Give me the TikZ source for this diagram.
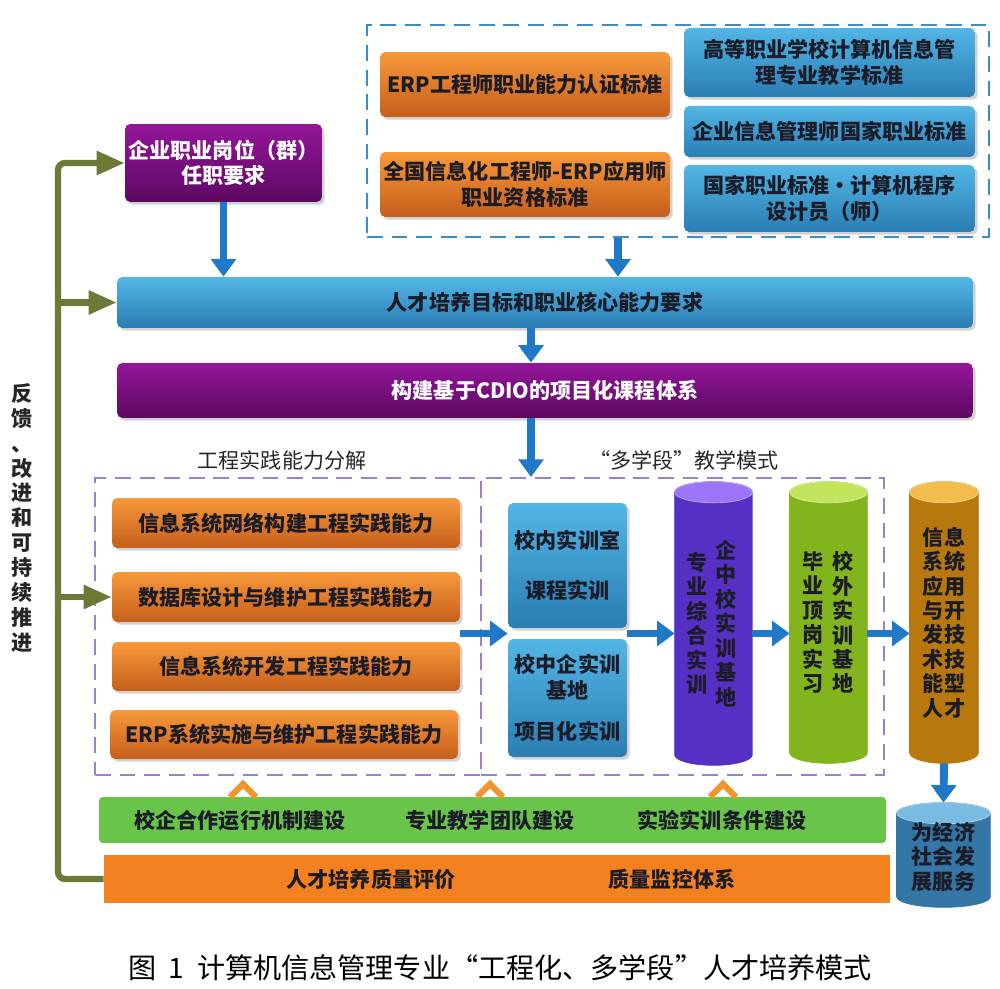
\documentclass[tikz,border=0pt]{standalone}
\usepackage{fontspec}
\setmainfont{Noto Sans CJK SC}
\usetikzlibrary{arrows.meta,calc,shadows}

\definecolor{orTop}{HTML}{F7993A}
\definecolor{orBot}{HTML}{C65E1B}
\definecolor{blTop}{HTML}{52B6E6}
\definecolor{blBot}{HTML}{2A7DB3}
\definecolor{puTop}{HTML}{94169A}
\definecolor{puBot}{HTML}{5C0862}
\definecolor{flowblue}{HTML}{1F78C8}
\definecolor{fbolive}{HTML}{6B7B37}
\definecolor{dashblue}{HTML}{3A8CCB}
\definecolor{dashpurple}{HTML}{9A80CF}
\definecolor{barGreen}{HTML}{68C54A}
\definecolor{barOrange}{HTML}{F3811F}
\definecolor{chevOrange}{HTML}{F0952F}
\definecolor{txtdark}{HTML}{1C1C28}
\definecolor{cylViolet}{HTML}{8A5CF8}
\definecolor{cylVioletD}{HTML}{5630C4}
\definecolor{cylLime}{HTML}{B8E040}
\definecolor{cylLimeD}{HTML}{82B41E}
\definecolor{cylGold}{HTML}{F0B030}
\definecolor{cylGoldD}{HTML}{B8780E}
\definecolor{cylBlue}{HTML}{62B0DC}
\definecolor{cylBlueD}{HTML}{3476A6}

% pillar body and top face for a node: name, light colour, dark colour
\newcommand\drawpillar[3]{%
  \path[left color=#3, middle color=#2, right color=#3, draw=#3]
    let \p1=(#1.north west), \p2=(#1.south east), \n1={(\x2-\x1)/2} in
    (\x1,\y1-6pt) -- (\x1,\y2+6pt) arc[start angle=180,end angle=360,x radius=\n1,y radius=6pt]
    -- (\x2,\y1-6pt) arc[start angle=0,end angle=180,x radius=\n1,y radius=6pt] -- cycle;
  \path[fill=#2!85!white, draw=#2!55!white]
    let \p1=(#1.north west), \p2=(#1.south east), \n1={(\x2-\x1)/2} in
    (\x1+\n1,\y1-6pt) ellipse[x radius=\n1,y radius=6pt];
}

\tikzset{
  boxtext/.style={font=\bfseries\fontsize{12}{14.4}\selectfont},
  box/.style={boxtext, rounded corners=3pt, inner sep=1pt, align=center,
    drop shadow={shadow xshift=1.5pt, shadow yshift=-1.5pt, fill=black!35}},
  orangebox/.style={box, top color=orTop, bottom color=orBot, text=txtdark},
  bluebox/.style={box, top color=blTop, bottom color=blBot, text=txtdark},
  purplebox/.style={box, top color=puTop, bottom color=puBot, text=white},
  groupbox/.style={line width=1.2pt, dash pattern=on 9pt off 5pt},
  flatbar/.style={inner sep=0pt, rounded corners=2pt},
  bartext/.style={boxtext, text=txtdark},
  pillar/.style={inner sep=0pt},
  vtext/.style={font=\bfseries\fontsize{12}{13.9}\selectfont, align=center, text=txtdark},
  grouplabel/.style={font=\fontsize{12}{14.4}\selectfont, text=black!85},
  flow/.style={draw=flowblue, line width=4.5pt, -{Triangle[length=10pt,width=14pt]}},
  fb/.style={draw=fbolive, line width=3.6pt},
  fbarrow/.style={fb, -{Triangle[length=16pt,width=13pt]}},
  chevron/.style={draw=chevOrange, line width=3.5pt, line join=miter}
}

\begin{document}
\begin{tikzpicture}[x=0.02cm,y=-0.02cm]
\useasboundingbox (0,0) rectangle (1000,989);

% standards on top
\node[groupbox, draw=dashblue, minimum width=12.44cm, minimum height=4.24cm] (stds) at (678,131) {};
\node[orangebox, minimum width=5.8cm, minimum height=1.3cm] (erp1) at (525,84.5) {ERP工程师职业能力认证标准};
\node[orangebox, minimum width=5.8cm, minimum height=1.3cm] (erp2) at (525,184.5) {全国信息化工程师-ERP应用师\\职业资格标准};
\node[bluebox, minimum width=5.82cm, minimum height=1.38cm] (stdA) at (829.5,62.5) {高等职业学校计算机信息管\\理专业教学标准};
\node[bluebox, minimum width=5.82cm, minimum height=1.02cm] (stdB) at (829.5,131.5) {企业信息管理师国家职业标准};
\node[bluebox, minimum width=5.82cm, minimum height=1.34cm] (stdC) at (829.5,198.5) {国家职业标准・计算机程序\\设计员（师）};
\node[purplebox, minimum width=3.94cm, minimum height=1.56cm] (post) at (223.5,163) {企业职业岗位（群）\\任职要求};

% main chain
\node[bluebox, minimum width=17.12cm, minimum height=1.02cm] (goal) at (545,302.5) {人才培养目标和职业核心能力要求};
\node[purplebox, minimum width=17.12cm, minimum height=1.1cm] (cdio) at (545,390.5) {构建基于CDIO的项目化课程体系};

% practice abilities
\node[grouplabel] (ablabel) at (282,460) {工程实践能力分解};
\node[groupbox, draw=dashpurple, minimum width=7.72cm, minimum height=5.94cm] (leftbox) at (288,626.5) {};
\node[orangebox, minimum width=6.96cm, minimum height=1cm] (abil1) at (286,523) {信息系统网络构建工程实践能力};
\node[orangebox, minimum width=6.96cm, minimum height=1cm] (abil2) at (286,597) {数据库设计与维护工程实践能力};
\node[orangebox, minimum width=6.96cm, minimum height=0.98cm] (abil3) at (286,666.5) {信息系统开发工程实践能力};
\node[orangebox, minimum width=6.96cm, minimum height=0.98cm] (abil4) at (284,734.5) {ERP系统实施与维护工程实践能力};

% teaching stages
\node[grouplabel] (stlabel) at (684,460) {“多学段”教学模式};
\node[groupbox, draw=dashpurple, minimum width=8.06cm, minimum height=5.94cm] (rightbox) at (682.5,626.5) {};
\node[bluebox, minimum width=2.38cm, minimum height=2.5cm] (lab1) at (567.5,565.5) {校内实训室\\[14pt]课程实训};
\node[bluebox, minimum width=2.38cm, minimum height=2.36cm] (lab2) at (567.5,698) {校中企实训\\基地\\[9pt]项目化实训};
\node[pillar, minimum width=1.54cm, minimum height=5.66cm] (cyl1) at (713.5,623.5) {};
\drawpillar{cyl1}{cylViolet}{cylVioletD}
\node[vtext] (cyl1a) at ($(cyl1.center)+(-16,0)$) {专\\业\\综\\合\\实\\训};
\node[vtext] (cyl1b) at ($(cyl1.center)+(13,0)$) {企\\中\\校\\实\\训\\基\\地};
\node[pillar, minimum width=1.54cm, minimum height=5.62cm] (cyl2) at (828.5,622.5) {};
\drawpillar{cyl2}{cylLime}{cylLimeD}
\node[vtext] (cyl2a) at ($(cyl2.center)+(-15,0)$) {毕\\业\\顶\\岗\\实\\习};
\node[vtext] (cyl2b) at ($(cyl2.center)+(15,0)$) {校\\外\\实\\训\\基\\地};
\node[pillar, minimum width=1.36cm, minimum height=5.62cm] (cyl3) at (944,622.5) {};
\drawpillar{cyl3}{cylGold}{cylGoldD}
\node[vtext] (cyl3a) at (cyl3.center) {信息\\系统\\应用\\与开\\发技\\术技\\能型\\人才};
\node[pillar, minimum width=1.86cm, minimum height=2.08cm] (serve) at (943.5,855) {};
\drawpillar{serve}{cylBlue}{cylBlueD}
\node[vtext] (servea) at ($(serve.center)+(0,2)$) {为经济\\社会发\\展服务};

% support bars
\node[flatbar, fill=barGreen, minimum width=15.74cm, minimum height=0.92cm] (buildbar) at (492.5,820) {};
\node[bartext] (coop) at (240,820) {校企合作运行机制建设};
\node[bartext] (team) at (490,820) {专业教学团队建设};
\node[bartext] (cond) at (722,820) {实验实训条件建设};
\node[fill=barOrange, inner sep=0pt, minimum width=15.72cm, minimum height=0.96cm] (evalbar) at (497,879) {};
\node[bartext] (evala) at (371,879) {人才培养质量评价};
\node[bartext] (evalb) at (672,879) {质量监控体系};
\foreach \cx in {243,490,723}
  \draw[chevron] (\cx-13,797) -- (\cx,784) -- (\cx+13,797);

% flow arrows
\coordinate (stdsout) at ($(stds.south)+(-60,0)$);
\coordinate (goalout) at ($(goal.south)+(-14,0)$);
\coordinate (cdioout) at ($(cdio.south)+(-14,0)$);
\coordinate (mid) at ($(lab1.south)!0.5!(lab2.north)$);
\draw[flow] (post.south) -- (post.south |- goal.north);
\draw[flow] (stdsout) -- (stdsout |- goal.north);
\draw[flow] (goalout) -- (goalout |- cdio.north);
\draw[flow] (cdioout) -- (cdioout |- rightbox.north);
\draw[flow] (abil2.east |- mid) -- (lab1.west |- mid);
\draw[flow] (lab1.east |- mid) -- (cyl1.west |- mid);
\draw[flow] (cyl1.east |- mid) -- (cyl2.west |- mid);
\draw[flow] (cyl2.east |- mid) -- (cyl3.west |- mid);
\draw[flow] (cyl3.south) -- (serve.north);

% feedback loop
\coordinate (fbtop) at (58,0 |- post.west);
\draw[fbarrow, rounded corners=4pt] (evalbar.west) -| (fbtop) -- (post.west);
\draw[fbarrow] (fbtop |- goal.west) -- (goal.west);
\draw[fbarrow] (fbtop |- abil2.west) -- (abil2.west);
\node[font=\bfseries\fontsize{12}{14.2}\selectfont, align=center, text=black!85] (fbtext) at (22,518) {反\\馈\\、\\改\\进\\和\\可\\持\\续\\推\\进};

\node[font=\fontsize{16}{19}\selectfont] (caption) at (500,968) {图\hspace{0.45em}1\hspace{0.45em}计算机信息管理专业“工程化、多学段”人才培养模式};
\end{tikzpicture}
\end{document}
